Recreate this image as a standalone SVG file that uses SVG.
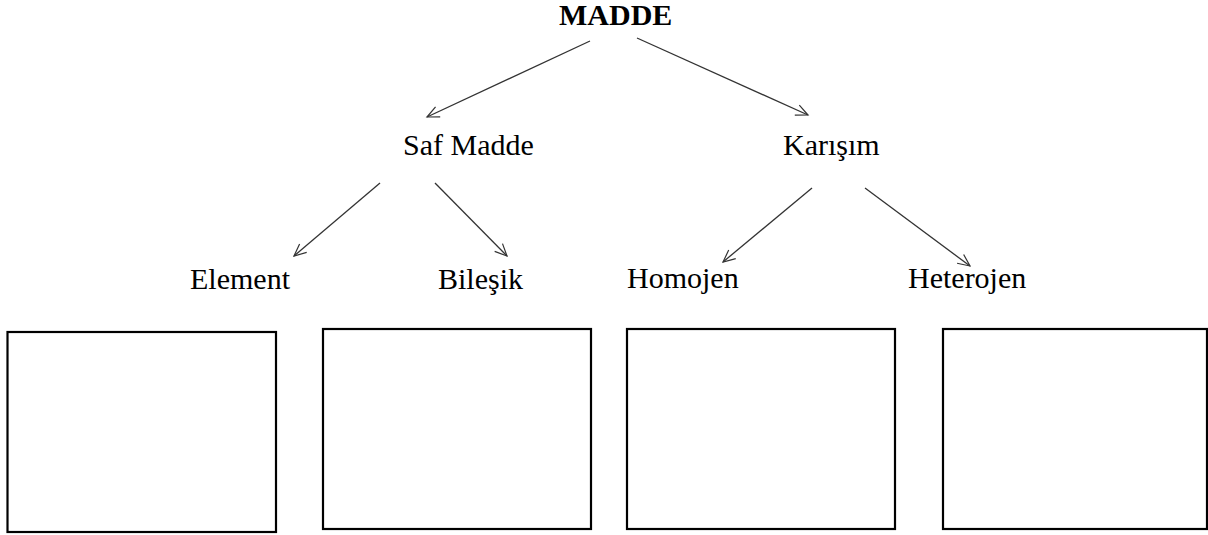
<svg xmlns="http://www.w3.org/2000/svg" width="1208" height="535" viewBox="0 0 1208 535">
<style>
.t{font-family:"Liberation Serif","Times New Roman",serif;font-size:30px;fill:#000}
.b{font-weight:bold}
.box{fill:#fff;stroke:#000;stroke-width:2.2}
.c{stroke:#333;stroke-width:1.3;fill:none;marker-end:url(#ah)}
</style>
<defs>
<marker id="ah" markerUnits="userSpaceOnUse" markerWidth="16" markerHeight="14" refX="13" refY="7" orient="auto" viewBox="0 0 16 14">
<path d="M1,1.5 L13,7 L1,12.5" fill="none" stroke="#333" stroke-width="1.2"/>
</marker>
</defs>
<rect width="1208" height="535" fill="#fff"/>
<g id="connectors">
<line class="c" x1="590" y1="41" x2="427" y2="117"/>
<line class="c" x1="637" y1="38" x2="808" y2="115"/>
<line class="c" x1="380" y1="183" x2="294" y2="256"/>
<line class="c" x1="435" y1="183" x2="507" y2="256"/>
<line class="c" x1="812" y1="188" x2="723" y2="262"/>
<line class="c" x1="865" y1="188" x2="970" y2="266"/>
</g>
<g id="madde"><text class="t b" x="559" y="25">MADDE</text></g>
<g id="saf-madde"><text class="t" x="403" y="155">Saf Madde</text></g>
<g id="karisim"><text class="t" x="783" y="155">Karışım</text></g>
<g id="element"><text class="t" x="190" y="289">Element</text></g>
<g id="bilesik"><text class="t" x="438" y="289">Bileşik</text></g>
<g id="homojen"><text class="t" x="627" y="288">Homojen</text></g>
<g id="heterojen"><text class="t" x="908" y="288">Heterojen</text></g>
<g id="box1"><rect class="box" x="7.5" y="332" width="268.5" height="200"/></g>
<g id="box2"><rect class="box" x="323" y="329" width="268" height="200"/></g>
<g id="box3"><rect class="box" x="627" y="329" width="268" height="200"/></g>
<g id="box4"><rect class="box" x="943" y="329" width="264" height="200"/></g>
</svg>
